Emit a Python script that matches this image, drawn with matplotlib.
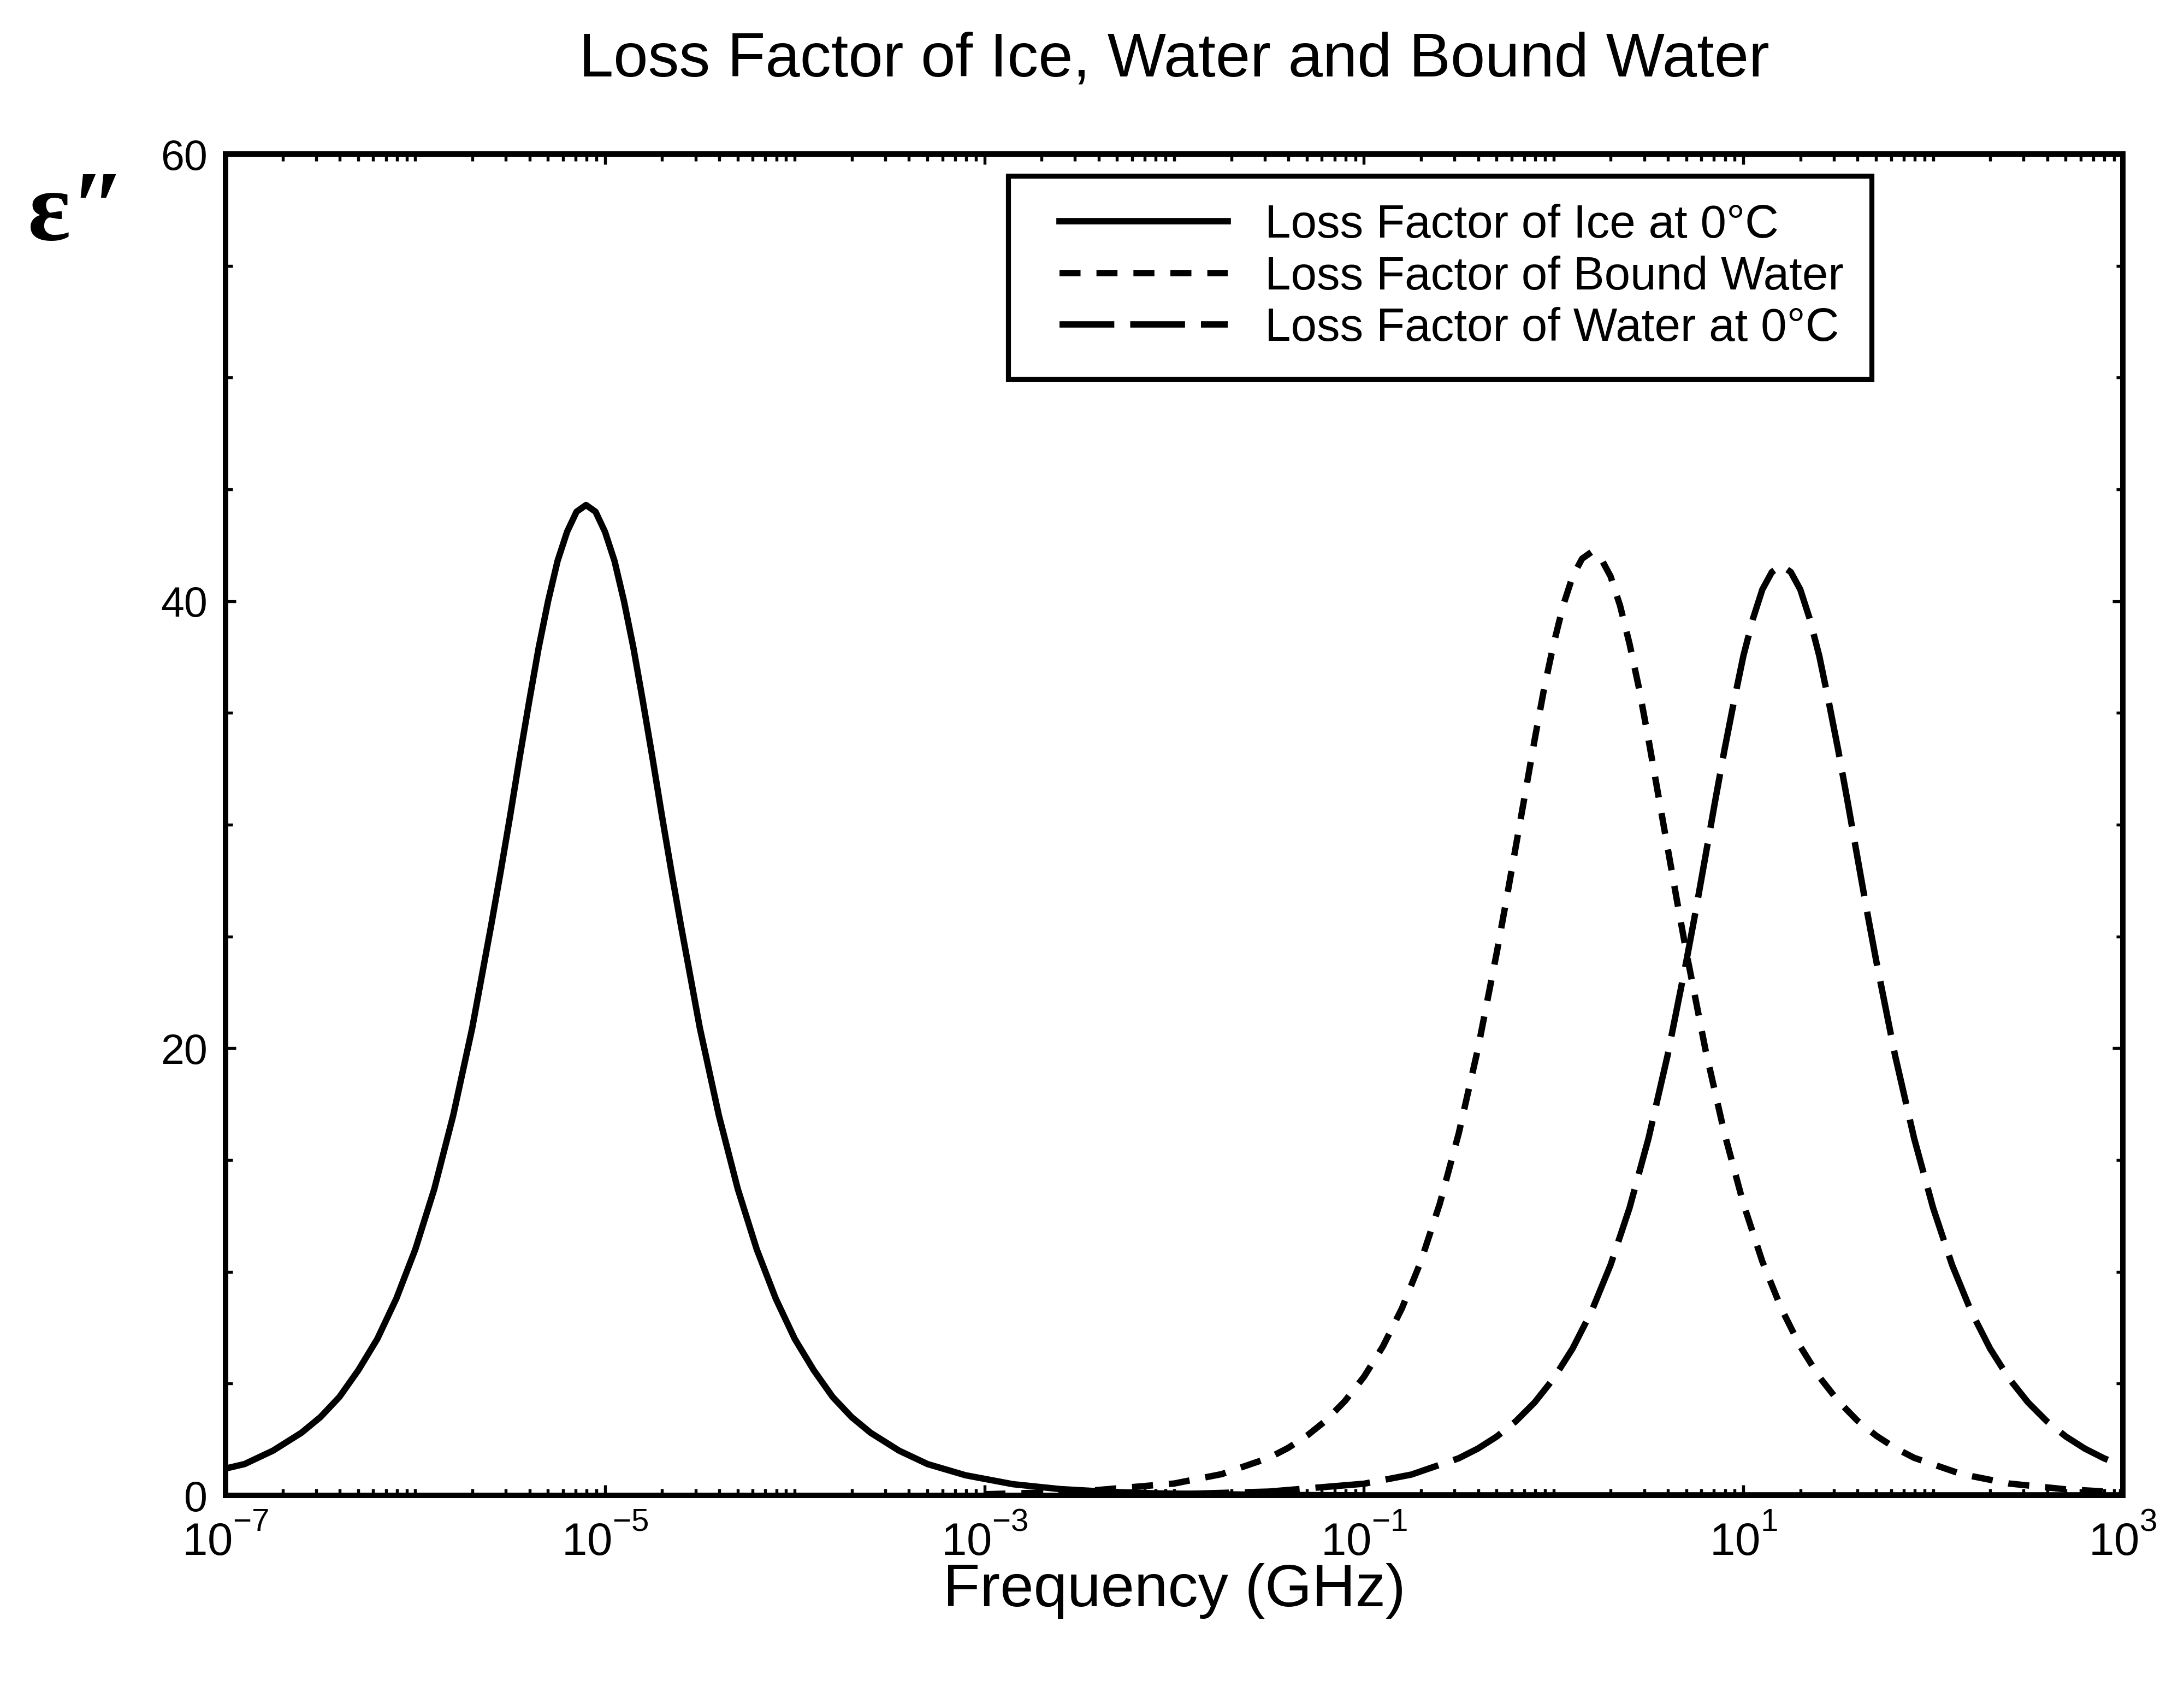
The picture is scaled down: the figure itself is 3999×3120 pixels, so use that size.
import numpy as np
import matplotlib
matplotlib.use('Agg')
import matplotlib.pyplot as plt
from matplotlib.ticker import FixedLocator, LogLocator, MultipleLocator, FuncFormatter, NullFormatter
from matplotlib.legend_handler import HandlerLine2D

# curves: log10 of frequency (GHz) and loss factor
ice_logf = [-7.0, -6.9, -6.75, -6.6, -6.5, -6.4, -6.3, -6.2, -6.1, -6.0,
            -5.9, -5.8, -5.7, -5.6, -5.55, -5.5, -5.45, -5.4, -5.35, -5.3,
            -5.25, -5.2, -5.15, -5.1, -5.05, -5.0, -4.95, -4.9, -4.85, -4.8,
            -4.75, -4.7, -4.65, -4.6, -4.5, -4.4, -4.3, -4.2, -4.1, -4.0,
            -3.9, -3.8, -3.7, -3.6, -3.45, -3.3, -3.1, -2.85, -2.6, -2.35,
            -2.1, -1.5, -1.0, 0.0, 1.0, 2.0, 3.0]
ice_loss = [1.2, 1.4, 2.0, 2.8, 3.5, 4.4, 5.6, 7.0, 8.8, 11.0,
            13.7, 17.0, 20.9, 25.5, 27.9, 30.4, 33.0, 35.5, 37.9, 40.0,
            41.8, 43.1, 44.0, 44.3, 44.0, 43.1, 41.8, 40.0, 37.9, 35.5,
            33.0, 30.4, 27.9, 25.5, 20.9, 17.0, 13.7, 11.0, 8.8, 7.0,
            5.6, 4.4, 3.5, 2.8, 2.0, 1.4, 0.9, 0.5, 0.28, 0.16,
            0.09, 0.02, 0.0, 0.0, 0.0, 0.0, 0.0]

bound_logf = [-3.0, -2.5, -2.0, -1.75, -1.5, -1.4, -1.3, -1.2, -1.1, -1.0,
              -0.9, -0.8, -0.7, -0.6, -0.5, -0.4, -0.3, -0.25, -0.2, -0.15,
              -0.1, -0.05, 0.0, 0.05, 0.1, 0.15, 0.2, 0.25, 0.3, 0.35,
              0.4, 0.45, 0.5, 0.55, 0.6, 0.65, 0.7, 0.8, 0.9, 1.0,
              1.1, 1.2, 1.3, 1.4, 1.5, 1.6, 1.7, 1.8, 1.9, 2.15,
              2.4, 2.7, 3.0]
bound_loss = [0.05, 0.17, 0.53, 0.95, 1.68, 2.12, 2.67, 3.35, 4.22, 5.30,
              6.66, 8.36, 10.46, 13.05, 16.20, 19.94, 24.27, 26.6, 29.0, 31.4,
              33.81, 36.1, 38.09, 39.8, 41.11, 41.9, 42.2, 41.9, 41.11, 39.8,
              38.09, 36.1, 33.81, 31.4, 29.0, 26.6, 24.27, 19.94, 16.20, 13.05,
              10.46, 8.36, 6.66, 5.30, 4.22, 3.35, 2.67, 2.12, 1.68, 0.95,
              0.53, 0.27, 0.13]

water_logf = [-2.0, -1.5, -1.0, -0.75, -0.5, -0.4, -0.3, -0.2, -0.1, 0.0,
              0.1, 0.2, 0.3, 0.4, 0.5, 0.6, 0.7, 0.75, 0.8, 0.85,
              0.9, 0.95, 1.0, 1.05, 1.1, 1.15, 1.2, 1.25, 1.3, 1.35,
              1.4, 1.45, 1.5, 1.55, 1.6, 1.65, 1.7, 1.8, 1.9, 2.0,
              2.1, 2.2, 2.3, 2.4, 2.5, 2.6, 2.7, 2.8, 2.9, 3.0]
water_loss = [0.05, 0.17, 0.52, 0.93, 1.66, 2.09, 2.63, 3.31, 4.16, 5.23,
              6.57, 8.24, 10.31, 12.86, 15.97, 19.66, 23.92, 26.2, 28.59, 31.0,
              33.33, 35.5, 37.55, 39.2, 40.52, 41.3, 41.6, 41.3, 40.52, 39.2,
              37.55, 35.5, 33.33, 31.0, 28.59, 26.2, 23.92, 19.66, 15.97, 12.86,
              10.31, 8.24, 6.57, 5.23, 4.16, 3.31, 2.63, 2.09, 1.66, 1.32]

labels = ['Loss Factor of Ice at 0\u00b0C',
          'Loss Factor of Bound Water',
          'Loss Factor of Water at 0\u00b0C']

plt.rcParams['font.family'] = ['Liberation Sans', 'DejaVu Sans']
plt.rcParams['mathtext.fontset'] = 'custom'
plt.rcParams['mathtext.rm'] = 'Liberation Sans'
plt.rcParams['mathtext.it'] = 'Liberation Sans'
plt.rcParams['mathtext.sf'] = 'Liberation Sans'
plt.rcParams['mathtext.default'] = 'rm'

# raise the exponents a bit more, like the original tick labels
try:
    import matplotlib._mathtext as _mt
    _mt.FontConstantsBase.sup1 = 1.0
except Exception:
    pass

W, H = 3999, 3120
fig = plt.figure(figsize=(W / 300, H / 300), dpi=300)
ax = fig.add_axes([413 / W, 1 - 2738 / H, (3887 - 413) / W, (2738 - 282) / H])

lw = 2.8
ax.plot(10 ** np.array(ice_logf), ice_loss, color='k', lw=lw, label=labels[0])
ax.plot(10 ** np.array(bound_logf), bound_loss, color='k', lw=lw,
        linestyle=(0, (3.3, 2.5)), dash_capstyle='butt', label=labels[1])
ax.plot(10 ** np.array(water_logf), water_loss, color='k', lw=lw,
        linestyle=(0, (8.6, 2.5)), dash_capstyle='butt', label=labels[2])

ax.set_xscale('log')
ax.set_xlim(1e-7, 1e3)
ax.set_ylim(0, 60)

ax.xaxis.set_major_locator(FixedLocator([10.0 ** k for k in range(-7, 4, 2)]))
ax.xaxis.set_minor_locator(LogLocator(base=10, subs=np.arange(1, 10), numticks=100))
ax.xaxis.set_minor_formatter(NullFormatter())
ax.xaxis.set_major_formatter(FuncFormatter(lambda v, p: r'$10^{%d}$' % int(round(np.log10(v)))))
ax.set_yticks([0, 20, 40, 60])
ax.yaxis.set_minor_locator(MultipleLocator(5))

ax.tick_params(which='both', direction='in', top=True, right=True, width=1.3, colors='k')
ax.tick_params(which='major', length=4.5)
ax.tick_params(which='minor', length=3.0)
ax.tick_params(axis='x', which='major', labelsize=20, pad=9)
ax.tick_params(axis='y', which='major', labelsize=18.5, pad=8)
for s in ax.spines.values():
    s.set_linewidth(2.4)

fs = 20.5
leg = ax.legend(loc='upper right', bbox_to_anchor=(3427 / W, 1 - 322 / H),
                bbox_transform=fig.transFigure, fontsize=fs,
                handlelength=4.1, handletextpad=0.8, borderpad=0.6,
                labelspacing=0.17, borderaxespad=0, fancybox=False,
                edgecolor='k', framealpha=1,
                handler_map={matplotlib.lines.Line2D: HandlerLine2D(xpad=0.5)})
leg.get_frame().set_linewidth(2.2)

fig.text(2150 / W, 1 - 140 / H, 'Loss Factor of Ice, Water and Bound Water',
         ha='center', va='baseline', fontsize=27.3)
fig.text(2150 / W, 1 - 2941 / H, 'Frequency (GHz)',
         ha='center', va='baseline', fontsize=26.5)
# y label: epsilon double prime
fig.text(51 / W, 1 - 439 / H, '\u03b5\u2033', ha='left', va='baseline',
         fontsize=44, fontweight='bold', family=['Liberation Serif', 'DejaVu Serif'])

fig.savefig('out.png', dpi=300, facecolor='white')
